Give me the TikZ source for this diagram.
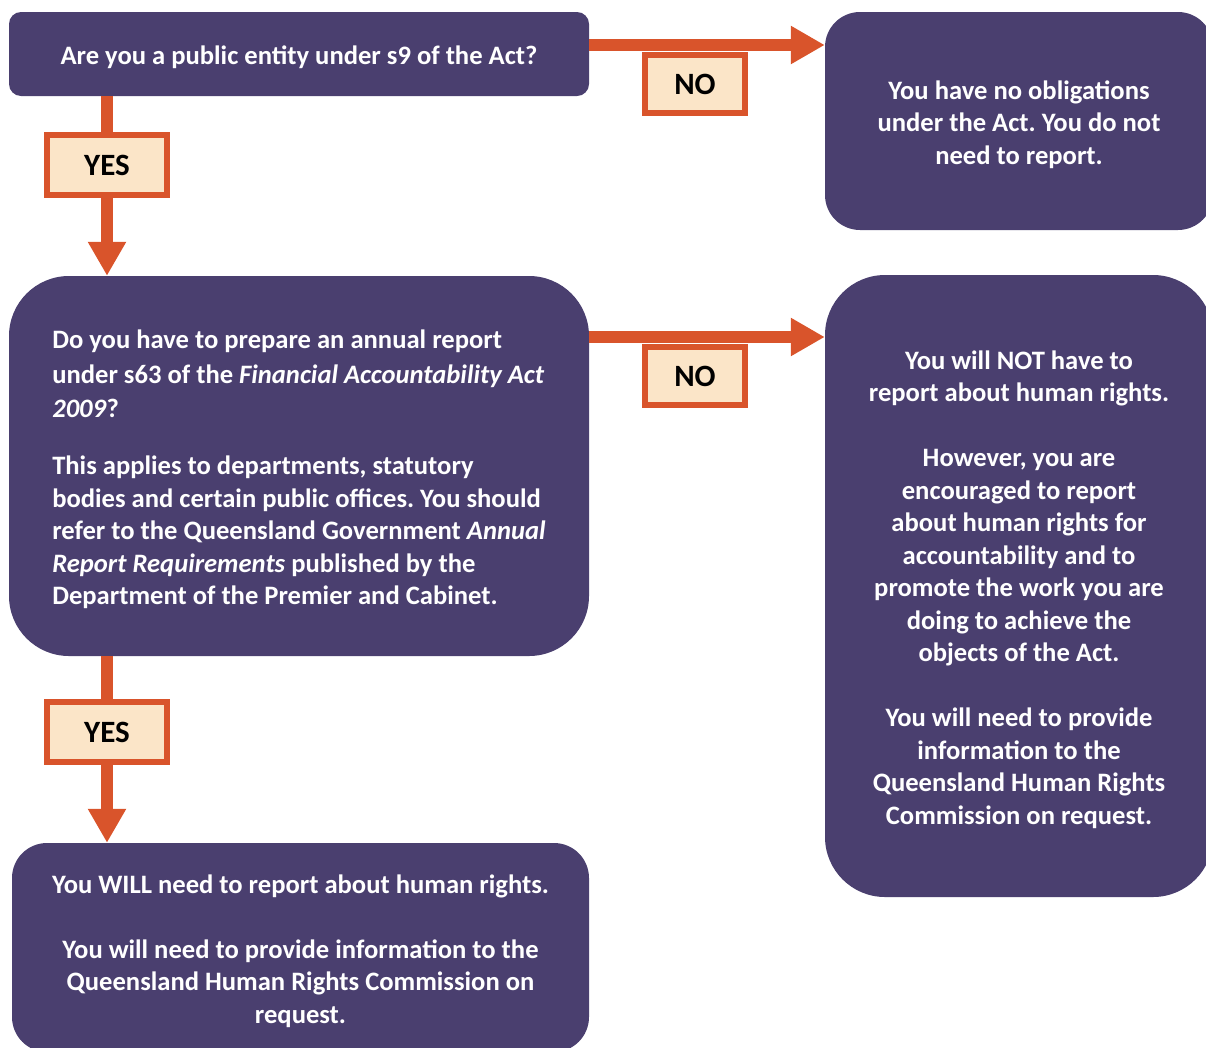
\documentclass[tikz,border=0pt]{standalone}
\usepackage{fontspec}
\setmainfont{Carlito}
\usetikzlibrary{arrows.meta}
\definecolor{boxpurple}{HTML}{4A3F6F}
\definecolor{arrorange}{HTML}{D9542B}
\definecolor{lblfill}{HTML}{FBE5C8}
\newcommand\toppad{\rule{0pt}{26pt}}
\begin{document}
\begin{tikzpicture}[x=1pt,y=-1pt,
  box/.style={fill=boxpurple, draw=none, text=white, inner sep=0pt,
    font=\bfseries\fontsize{26.6}{32.5}\selectfont\frenchspacing},
  conn/.style={draw=arrorange, line width=12pt, -{Triangle[length=34pt,width=36pt]}},
  lbl/.style={draw=arrorange, fill=lblfill, line width=6pt, text=black, inner sep=0pt,
    font=\bfseries\fontsize{31}{36}\selectfont}]
\useasboundingbox (0,0) rectangle (1206,1047);
\clip (0,0) rectangle (1206,1047);

\node[box, minimum width=580pt, minimum height=84pt, rounded corners=12pt, align=center]
  (q1) at (299,54) {\toppad Are you a public entity under s9 of the Act?};

\node[box, minimum width=388pt, minimum height=218pt, rounded corners=35pt, align=center]
  (r1) at (1019,121) {\toppad You have no obligations\\under the Act. You do not\\need to report.};

\node[box, minimum width=580pt, minimum height=380pt, rounded corners=60pt, align=left]
  (q2) at (299,466) {\toppad Do you have to prepare an annual report\\[2pt]
  under s63 of the \textit{Financial Accountability Act}\\[2pt]
  \textit{2009}?\\[24.5pt]
  This applies to departments, statutory\\
  bodies and certain public offices. You should\\
  refer to the Queensland Government \textit{Annual}\\
  \textit{Report Requirements} published by the\\
  Department of the Premier and Cabinet.};

\node[box, minimum width=388pt, minimum height=622pt, rounded corners=60pt, align=center]
  (r2) at (1019,586) {\toppad You will NOT have to\\report about human rights.\\[32.5pt]
  However, you are\\encouraged to report\\about human rights for\\accountability and to\\
  promote the work you are\\doing to achieve the\\objects of the Act.\\[32.5pt]
  You will need to provide\\information to the\\Queensland Human Rights\\Commission on request.};

\node[box, minimum width=577pt, minimum height=209pt, rounded corners=35pt, align=center]
  (r3) at (300.5,947.5) {\toppad You WILL need to report about human rights.\\[32.5pt]
  You will need to provide information to the\\Queensland Human Rights Commission on\\request.};

\coordinate (c1) at ([yshift=9pt]q1.east);
\coordinate (c2) at ([yshift=129pt]q2.east);
\coordinate (c3) at ([xshift=-192pt]q1.south);
\coordinate (c4) at ([xshift=-192pt]q2.south);

\draw[conn] (c1) -- (c1 -| r1.west);
\draw[conn] (c2) -- (c2 -| r2.west);
\draw[conn] (c3) -- (c3 |- q2.north);
\draw[conn] (c4) -- (c4 |- r3.north);

\node[lbl, minimum width=100pt, minimum height=58pt] (no1) at (695,84) {NO};
\node[lbl, minimum width=100pt, minimum height=58pt] (no2) at (695,376) {NO};
\node[lbl, minimum width=120pt, minimum height=60pt] (yes1) at (107,165) {YES};
\node[lbl, minimum width=120pt, minimum height=60pt] (yes2) at (107,732) {YES};
\end{tikzpicture}
\end{document}
